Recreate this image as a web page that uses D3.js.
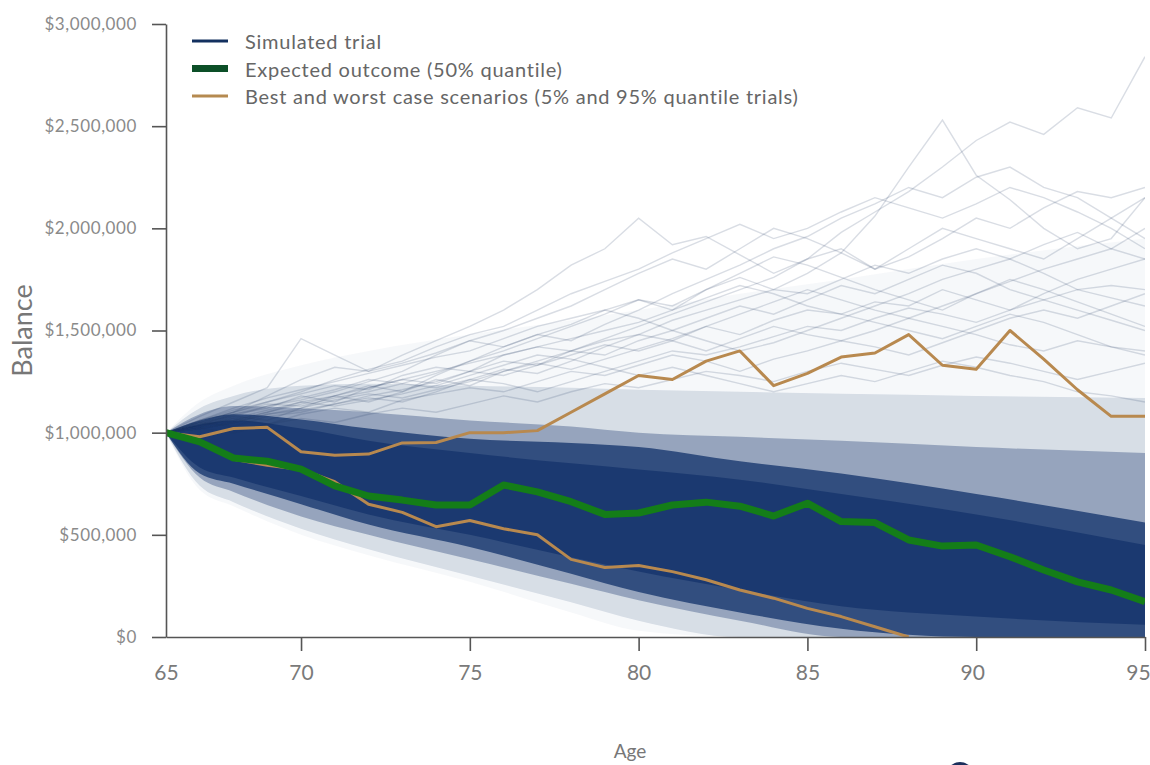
<!DOCTYPE html>
<html lang="en">
<head>
  <meta charset="UTF-8">
  <title>Retirement balance simulation</title>
  <script src="https://d3js.org/d3.v7.min.js"></script>
  <style>
    body {
      margin: 0;
      background: #fff;
      font-family: Lato, "Open Sans", sans-serif;
      overflow: hidden;
    }
    #chart svg { display: block; }
    .axis path, .axis line { stroke: #555; stroke-width: 1.6; }
    .y-axis text { fill: #8a8a8a; font-size: 17px; letter-spacing: 0.6px; font-family: Lato, sans-serif; }
    .x-axis text { fill: #7a7a7a; font-size: 21px; font-family: Lato, sans-serif; }
    .axis-title { fill: #777; font-family: Lato, sans-serif; }
    .legend text { fill: #666; font-size: 20px; letter-spacing: 0.75px; font-family: Lato, sans-serif; }
  </style>
</head>
<body>
  <div id="chart"></div>
  <script>
    // ages of the simulated years (first point is drawn at the "65" label)
    const ages = [66, 67, 68, 69, 70, 71, 72, 73, 74, 75, 76, 77, 78, 79, 80,
                  81, 82, 83, 84, 85, 86, 87, 88, 89, 90, 91, 92, 93, 94, 95];
    const xTickValues = [66, 70, 75, 80, 85, 90, 95];
    const xTickLabels = ["65", "70", "75", "80", "85", "90", "95"];
    const yTickValues = [0, 500000, 1000000, 1500000, 2000000, 2500000, 3000000];

    // median trial (50% quantile), in $K
    const expected = [1000, 955, 876, 860, 822, 740, 690, 670, 646, 646, 744, 710, 662, 600, 607,
                      646, 660, 640, 592, 655, 565, 560, 475, 445, 450, 393, 328, 270, 230, 173];
    // 95% quantile trial, in $K
    const bestCase = [1000, 980, 1020, 1026, 907, 890, 895, 950, 952, 1000, 1000, 1010, 1100, 1190, 1280,
                      1260, 1350, 1400, 1230, 1290, 1370, 1390, 1480, 1330, 1310, 1500, 1360, 1210, 1080, 1080];
    // 5% quantile trial, in $K (runs out at 88)
    const worstCase = [1000, 955, 870, 840, 820, 760, 650, 610, 540, 570, 530, 500, 380, 340, 350,
                       320, 280, 230, 190, 140, 100, 50, 0, null, null, null, null, null, null, null];

    // density of the trial cloud, read as envelopes at a few ages, in $K
    const bandAges = [66, 67, 68, 70, 72, 75, 78, 80, 83, 86, 90, 95];
    const webUpper   = [1000, 1150, 1230, 1330, 1400, 1480, 1550, 1600, 1680, 1750, 1850, 1950];
    const webLower   = [1000, 720, 640, 500, 400, 270, 120, 30, 0, 0, 0, 0];
    const faintUpper = [1000, 1120, 1180, 1230, 1240, 1230, 1220, 1210, 1200, 1190, 1180, 1170];
    const faintLower = [1000, 740, 660, 530, 430, 300, 170, 80, 0, 0, 0, 0];
    const midUpper   = [1000, 1090, 1130, 1120, 1100, 1060, 1030, 1000, 980, 960, 930, 900];
    const midLower   = [1000, 780, 710, 590, 500, 380, 260, 180, 80, 0, 0, 0];
    const darkUpper  = [1000, 1060, 1090, 1065, 1020, 970, 950, 930, 860, 800, 700, 560];
    const darkLower  = [1000, 800, 750, 650, 550, 440, 310, 220, 120, 40, 0, 0];
    const coreUpper  = [1000, 1040, 1060, 1020, 960, 900, 850, 820, 770, 700, 600, 450];
    const coreLower  = [1000, 830, 780, 690, 600, 500, 390, 320, 230, 150, 100, 60];

    // individual trials visible above the cloud, in $K
    const trials = [
      [1000,1060,1110,1150,1190,1230,1210,1280,1320,1300,1380,1420,1400,1460,1520,1580,1640,1700,1760,1850,1980,2080,2180,2300,2430,2520,2460,2590,2540,2840],
      [1000,1040,1090,1120,1180,1150,1220,1260,1240,1300,1350,1330,1400,1450,1480,1550,1600,1650,1700,1780,1880,2060,2300,2530,2260,2140,2000,1900,1950,2150],
      [1000,1050,1100,1180,1260,1320,1300,1380,1450,1520,1600,1700,1820,1900,2050,1920,1960,1870,1780,1850,1900,1800,1860,1950,2050,2000,2100,2180,2150,2200],
      [1000,1030,1080,1060,1120,1180,1230,1200,1280,1350,1420,1480,1450,1530,1600,1680,1750,1820,1900,1960,2050,2120,2200,2150,2250,2300,2200,2150,2050,1950],
      [1000,1080,1150,1220,1460,1380,1300,1340,1390,1450,1420,1480,1530,1600,1650,1600,1700,1760,1700,1680,1750,1820,1780,1850,1900,1850,1780,1700,1720,1700],
      [1000,1050,1080,1130,1160,1200,1250,1300,1380,1450,1500,1560,1620,1700,1780,1850,1800,1900,2000,1950,1880,1800,1900,2000,1950,1900,1850,1950,2050,2150],
      [1000,1040,1060,1100,1150,1180,1150,1200,1260,1230,1300,1350,1400,1380,1450,1500,1560,1620,1580,1650,1720,1680,1750,1820,1780,1700,1650,1600,1550,1500],
      [1000,1060,1100,1150,1200,1260,1310,1350,1420,1480,1520,1600,1680,1740,1800,1880,1950,2020,1950,2000,2080,2150,2100,2050,2120,2200,2150,2080,2000,1900],
      [1000,1020,1050,1090,1110,1140,1180,1210,1250,1300,1280,1330,1380,1430,1400,1450,1520,1480,1550,1600,1580,1640,1620,1700,1650,1600,1680,1750,1800,1850],
      [1000,1050,1030,1080,1100,1140,1170,1150,1200,1260,1310,1290,1350,1420,1480,1450,1400,1460,1520,1480,1450,1500,1560,1520,1480,1430,1400,1450,1420,1380],
      [1000,1030,1070,1040,1090,1120,1100,1160,1190,1220,1200,1250,1300,1280,1330,1380,1350,1300,1360,1400,1450,1420,1380,1440,1500,1560,1600,1560,1620,1680],
      [1000,1040,1090,1130,1170,1210,1260,1240,1290,1350,1400,1460,1520,1580,1650,1620,1700,1780,1860,1820,1760,1700,1650,1600,1680,1750,1700,1640,1580,1520],
      [1000,1020,1000,1040,1070,1050,1090,1120,1100,1140,1180,1150,1200,1240,1220,1260,1300,1280,1250,1300,1340,1310,1280,1330,1370,1340,1300,1260,1300,1340],
      [1000,1050,1100,1140,1130,1170,1200,1240,1220,1260,1240,1200,1250,1300,1350,1400,1380,1420,1470,1520,1500,1560,1610,1580,1540,1600,1650,1700,1660,1620],
      [1000,1040,1070,1110,1150,1130,1160,1190,1230,1280,1330,1380,1360,1320,1280,1320,1280,1240,1200,1240,1280,1250,1300,1350,1320,1280,1250,1200,1180,1150],
      [1000,1060,1120,1170,1210,1250,1290,1330,1370,1400,1460,1520,1560,1600,1560,1500,1450,1400,1440,1500,1560,1620,1680,1750,1800,1850,1920,1980,1900,1850],
      [1000,1030,1060,1100,1140,1180,1220,1260,1300,1340,1380,1420,1460,1500,1540,1600,1660,1720,1680,1620,1580,1540,1500,1460,1520,1580,1540,1480,1420,1400],
      [1000,1020,1050,1090,1120,1160,1190,1170,1210,1250,1300,1340,1310,1360,1410,1460,1520,1580,1640,1700,1650,1600,1560,1620,1680,1740,1800,1850,1900,2000]
    ];

    const legendItems = [
      { label: "Simulated trial", color: "#13305f", width: 3 },
      { label: "Expected outcome (50% quantile)", color: "#0c4f27", width: 7 },
      { label: "Best and worst case scenarios (5% and 95% quantile trials)", color: "#b58a50", width: 3 }
    ];

    const width = 1150;
    const height = 765;
    const margin = { top: 24, right: 5, bottom: 128, left: 166 };
    const navy = "#0b2c66";

    const svg = d3.select("#chart")
      .append("svg")
      .attr("width", width)
      .attr("height", height);

    const x = d3.scaleLinear()
      .domain([66, 95])
      .range([margin.left, width - margin.right]);

    const y = d3.scaleLinear()
      .domain([0, 3000000])
      .range([height - margin.bottom, margin.top]);

    svg.append("defs").append("clipPath")
      .attr("id", "plot-clip")
      .append("rect")
      .attr("x", margin.left)
      .attr("y", margin.top - 10)
      .attr("width", width - margin.right - margin.left)
      .attr("height", height - margin.bottom - margin.top + 10);

    const plot = svg.append("g").attr("clip-path", "url(#plot-clip)");

    // cloud of trials as nested envelopes
    const bands = [
      { upper: webUpper, lower: webLower, opacity: 0.035 },
      { upper: faintUpper, lower: faintLower, opacity: 0.13 },
      { upper: midUpper, lower: midLower, opacity: 0.32 },
      { upper: darkUpper, lower: darkLower, opacity: 0.72 },
      { upper: coreUpper, lower: coreLower, opacity: 0.6 }
    ];

    const area = d3.area()
      .x(d => x(d.age))
      .y0(d => y(d.lo * 1000))
      .y1(d => y(d.hi * 1000))
      .curve(d3.curveMonotoneX);

    bands.forEach(b => {
      const rows = bandAges.map((a, i) => ({ age: a, hi: b.upper[i], lo: b.lower[i] }));
      plot.append("path")
        .datum(rows)
        .attr("d", area)
        .attr("fill", navy)
        .attr("fill-opacity", b.opacity);
    });

    const line = d3.line()
      .defined(d => d.v !== null)
      .x(d => x(d.age))
      .y(d => y(d.v * 1000));

    const toRows = arr => ages.map((a, i) => ({ age: a, v: arr[i] }));

    plot.selectAll(".trial")
      .data(trials)
      .join("path")
      .attr("class", "trial")
      .attr("d", t => line(toRows(t)))
      .attr("fill", "none")
      .attr("stroke", "#1d3560")
      .attr("stroke-opacity", 0.17)
      .attr("stroke-width", 1.4);

    [bestCase, worstCase].forEach(s => {
      plot.append("path")
        .attr("d", line(toRows(s)))
        .attr("fill", "none")
        .attr("stroke", "#b8894f")
        .attr("stroke-width", 3)
        .attr("stroke-linejoin", "round");
    });

    plot.append("path")
      .attr("d", line(toRows(expected)))
      .attr("fill", "none")
      .attr("stroke", "#147d18")
      .attr("stroke-width", 7)
      .attr("stroke-linejoin", "round");

    // axes
    svg.append("g")
      .attr("class", "axis y-axis")
      .attr("transform", `translate(${margin.left},0)`)
      .call(d3.axisLeft(y)
        .tickValues(yTickValues)
        .tickFormat(d3.format("$,"))
        .tickSize(14)
        .tickSizeOuter(0)
        .tickPadding(15));

    const xAxis = svg.append("g")
      .attr("class", "axis x-axis")
      .attr("transform", `translate(0,${height - margin.bottom})`)
      .call(d3.axisBottom(x)
        .tickValues(xTickValues)
        .tickFormat((d, i) => xTickLabels[i])
        .tickSize(14)
        .tickSizeOuter(0)
        .tickPadding(14));

    xAxis.selectAll(".tick").filter(d => d === 66).select("line").remove();
    xAxis.selectAll(".tick").filter(d => d === 95).select("text").attr("dx", -7);
    xAxis.selectAll(".tick").filter(d => d === 90).select("text").attr("dx", -4);

    svg.append("text")
      .attr("class", "axis-title")
      .attr("transform", `translate(32,${(margin.top + height - margin.bottom) / 2}) rotate(-90)`)
      .attr("text-anchor", "middle")
      .style("font-size", "27px")
      .text("Balance");

    svg.append("text")
      .attr("class", "axis-title")
      .attr("x", 630)
      .attr("y", 758)
      .attr("text-anchor", "middle")
      .style("font-size", "19px")
      .text("Age");

    // legend
    const legend = svg.append("g").attr("class", "legend");
    legendItems.forEach((item, i) => {
      const ly = 41 + i * 27.5;
      legend.append("line")
        .attr("x1", 192).attr("x2", 228)
        .attr("y1", ly).attr("y2", ly)
        .attr("stroke", item.color)
        .attr("stroke-width", item.width);
      legend.append("text")
        .attr("x", 245)
        .attr("y", ly)
        .attr("dominant-baseline", "central")
        .text(item.label);
    });

    // logo, cut by the bottom edge as in the source image
    const logo = svg.append("g");
    logo.append("circle")
      .attr("cx", 960).attr("cy", 776).attr("r", 14)
      .attr("fill", "#1c2f5c");
    logo.append("text")
      .attr("x", 985).attr("y", 788)
      .attr("fill", "#1c2f5c")
      .style("font-size", "30px")
      .style("font-family", "Lato, sans-serif")
      .text("Retirement");
  </script>
</body>
</html>
